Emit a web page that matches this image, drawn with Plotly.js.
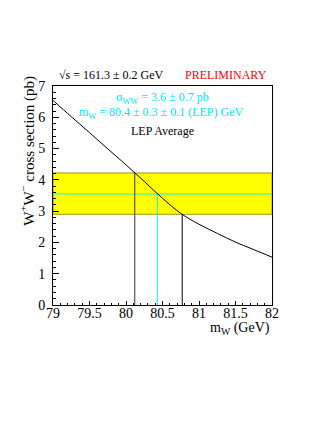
<!DOCTYPE html>
<html>
<head>
<meta charset="utf-8">
<script src="https://cdn.plot.ly/plotly-3.0.1.min.js"></script>
<style>html,body{margin:0;padding:0;background:#fff;}#chart{width:327px;height:423px;}</style>
</head>
<body>
<div id="chart"></div>
<script>
// Theoretical W+W- cross section vs mW at sqrt(s)=161.3 GeV
const mwCurve = [79.0, 79.25, 79.5, 79.75, 80.0, 80.25, 80.5, 80.75, 81.0, 81.25, 81.5, 81.75, 82.0];
const sigmaCurve = [6.54, 6.02, 5.51, 4.99, 4.48, 3.95, 3.41, 2.93, 2.58, 2.29, 2.01, 1.77, 1.53];
// measured cross section: [low, central, high]
const sigmaMeas = [2.90, 3.55, 4.22];
// masses where curve crosses [low, central, high] sigma
const mwMeas = [80.77, 80.43, 80.12];
const xRange = [79, 82];
const yRange = [0, 7];

const serif = "Liberation Serif, Times New Roman, serif";
const traces = [
  { // band
    x: [xRange[0], xRange[1], xRange[1], xRange[0], xRange[0]],
    y: [sigmaMeas[0], sigmaMeas[0], sigmaMeas[2], sigmaMeas[2], sigmaMeas[0]],
    mode: 'lines', fill: 'toself', fillcolor: '#ffff00',
    line: {color: '#9a9a00', width: 1}, hoverinfo: 'skip'
  },
  { // central horizontal
    x: xRange, y: [sigmaMeas[1], sigmaMeas[1]],
    mode: 'lines', line: {color: '#00ffff', width: 1}
  },
  { // left vertical (high sigma)
    x: [mwMeas[2], mwMeas[2]], y: [0, sigmaMeas[2]],
    mode: 'lines', line: {color: '#333333', width: 1}
  },
  { // central vertical
    x: [mwMeas[1], mwMeas[1]], y: [0, sigmaMeas[1]],
    mode: 'lines', line: {color: '#00ffff', width: 1}
  },
  { // right vertical (low sigma)
    x: [mwMeas[0], mwMeas[0]], y: [0, sigmaMeas[0]],
    mode: 'lines', line: {color: '#000000', width: 1}
  },
  { // theory curve
    x: mwCurve, y: sigmaCurve, mode: 'lines',
    line: {color: '#000000', width: 1, shape: 'spline'}
  }
];

const axisCommon = {
  showgrid: false, zeroline: false, showline: true, mirror: true,
  linecolor: '#000', linewidth: 1, ticks: 'inside', tickcolor: '#000',
  tickfont: {family: serif, size: 14, color: '#000'}, fixedrange: true
};

const layout = {
  width: 327, height: 423,
  margin: {l: 53, r: 55, t: 86, b: 118},
  paper_bgcolor: '#fff', plot_bgcolor: '#fff',
  showlegend: false,
  xaxis: Object.assign({}, axisCommon, {
    range: xRange, dtick: 0.5, tick0: 79, ticklen: 4, ticklabelstandoff: -5,
    minor: {dtick: 0.1, ticklen: 2, ticks: 'inside', tickcolor: '#000'}
  }),
  yaxis: Object.assign({}, axisCommon, {
    range: yRange, dtick: 1, tick0: 0, ticklen: 6, ticklabelstandoff: 4,
    minor: {dtick: 0.2, ticklen: 3, ticks: 'inside', tickcolor: '#000'}
  }),
  annotations: [
    {text: 'W<sup>+</sup>W<sup>\u2212</sup> cross section (pb)', textangle: -90,
     xref: 'paper', yref: 'paper', x: -0.114, y: 0.705, xanchor: 'center', yanchor: 'middle',
     showarrow: false, font: {family: serif, size: 15, color: '#000'}},
    {text: 'm<sub>W</sub> (GeV)', xref: 'paper', yref: 'paper', x: 1.0, y: -0.108,
     xanchor: 'right', yanchor: 'middle', showarrow: false, font: {family: serif, size: 14, color: '#000'}},
    {text: '\u221As = 161.3 \u00B1 0.2 GeV', xref: 'paper', yref: 'paper', x: 0.265, y: 1.052,
     xanchor: 'center', yanchor: 'middle', showarrow: false, font: {family: serif, size: 12, color: '#000'}},
    {text: 'PRELIMINARY', xref: 'paper', yref: 'paper', x: 0.788, y: 1.052,
     xanchor: 'center', yanchor: 'middle', showarrow: false, font: {family: serif, size: 12, color: '#ff0000'}},
    {text: '\u03C3<sub>WW</sub> = 3.6 \u00B1 0.7 pb', xref: 'paper', yref: 'paper', x: 0.5, y: 0.945,
     xanchor: 'center', yanchor: 'middle', showarrow: false, font: {family: serif, size: 12, color: '#00e5ff'}},
    {text: 'm<sub>W</sub> = 80.4 \u00B1 0.3 \u00B1 0.1 (LEP) GeV', xref: 'paper', yref: 'paper', x: 0.497, y: 0.876,
     xanchor: 'center', yanchor: 'middle', showarrow: false, font: {family: serif, size: 12, color: '#00e5ff'}},
    {text: 'LEP Average', xref: 'paper', yref: 'paper', x: 0.5, y: 0.796,
     xanchor: 'center', yanchor: 'middle', showarrow: false, font: {family: serif, size: 12, color: '#000'}}
  ]
};

Plotly.newPlot('chart', traces, layout, {displayModeBar: false, staticPlot: true});
</script>
</body>
</html>
